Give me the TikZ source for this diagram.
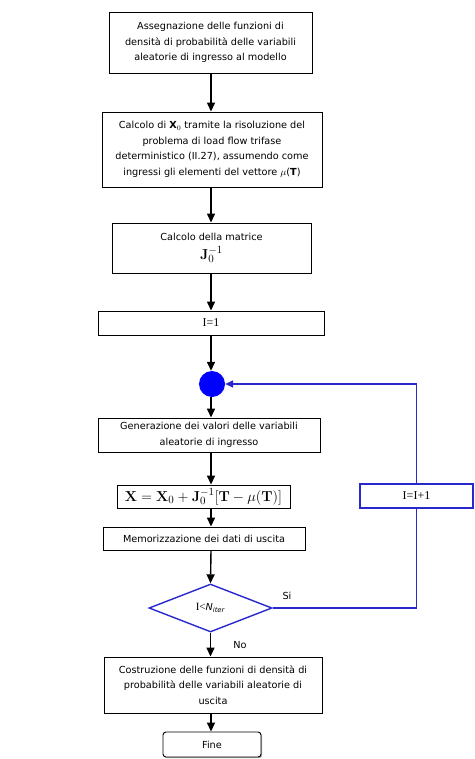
\documentclass[tikz,border=0pt]{standalone}
\usepackage[no-math]{fontspec}
\setmainfont{DejaVu Sans}
\newfontfamily\timesfont{Liberation Serif}
\usetikzlibrary{shapes.geometric,arrows.meta,shadows}
\definecolor{loopblue}{RGB}{40,40,205}
\begin{document}
\begin{tikzpicture}[x=1pt,y=-1pt,
    font=\fontsize{9.7}{15.5}\selectfont,
    box/.style={draw, line width=0.9pt, align=center, inner sep=2pt},
    flow/.style={line width=1.4pt, -{Triangle[length=9pt,width=8pt]}},
    loop/.style={draw=loopblue, line width=1.6pt},
    serifnum/.style={font=\timesfont\fontsize{12}{13}\selectfont},
    bigmath/.style={font=\fontsize{15}{17}\selectfont}]
    \useasboundingbox (0,0) rectangle (474,759);
    \coordinate (sp) at (211,0);

    % main column
    \node[box, minimum width=203, minimum height=61] (dens) at (210.5,42.5)
        {Assegnazione delle funzioni di\\densità di probabilità delle variabili\\aleatorie di ingresso al modello};
    \node[box, minimum width=220, minimum height=75] (xzero) at (212,149.5)
        {Calcolo di \textbf{X}$_0$ tramite la risoluzione del\\problema di load flow trifase\\deterministico (II.27), assumendo come\\ingressi gli elementi del vettore $\mu$(\textbf{T})};
    \node[box, minimum width=199, minimum height=50] (jac) at (211.5,248)
        {Calcolo della matrice\\[3pt]{\fontsize{15}{17}\selectfont$\mathbf{J}_0^{-1}$}};
    \node[box, serifnum, minimum width=226, minimum height=24] (init) at (211,323) {I=1};
    \node[circle, fill=blue, minimum size=26, inner sep=0] (merge) at (212,384) {};
    \node[box, minimum width=222, minimum height=34] (gen) at (209,435)
        {Generazione dei valori delle variabili\\aleatorie di ingresso};
    \node[box, bigmath, minimum width=173, minimum height=23, inner sep=0] (upd) at (203.5,496.5)
        {$\mathbf{X}=\mathbf{X}_0+\mathbf{J}_0^{-1}\Big[\mathbf{T}-\mu\big(\mathbf{T}\big)\Big]$};
    \node[box, minimum width=202, minimum height=23] (mem) at (204,538.5)
        {Memorizzazione dei dati di uscita};
    \node[diamond, draw=loopblue, line width=1.4pt, minimum width=123, minimum height=48,
        aspect=2.5, inner sep=0] (test) at (210.5,608)
        {{\timesfont\fontsize{11}{13}\selectfont I<}\textit{N}\textsubscript{\textit{iter}}};
    \node[box, minimum width=218, minimum height=56] (out) at (213,685)
        {Costruzione delle funzioni di densità di\\probabilità delle variabili aleatorie di\\uscita};
    \node[box, rounded corners=3pt, fill=white, minimum width=98, minimum height=25,
        drop shadow={shadow xshift=1.2pt, shadow yshift=-1.2pt, fill=black!70}] (fine) at (212,744.5) {Fine};

    % loop counter
    \node[box, serifnum, draw=loopblue, line width=1.4pt, minimum width=113, minimum height=24] (inc) at (416.5,496)
        {I=I+1};

    \draw[flow] (dens.south -| sp) -- (xzero.north -| sp);
    \draw[flow] (xzero.south -| sp) -- (jac.north -| sp);
    \draw[flow] (jac.south -| sp) -- (init.north -| sp);
    \draw[flow] (init.south -| sp) -- (merge.north -| sp);
    \draw[flow] (merge.south -| sp) -- (gen.north -| sp);
    \draw[flow] (gen.south -| sp) -- (upd.north -| sp);
    \draw[flow] (upd.south -| sp) -- (mem.north -| sp);
    \draw[flow] (mem.south -| sp) -- (test.north);
    \draw[flow] (test.south) -- (out.north -| test.south);
    \draw[flow] (out.south -| sp) -- (fine.north -| sp);

    \draw[loop] (test.east) -| (inc.south);
    \draw[loop, -{Triangle[length=8pt,width=7pt]}] (inc.north) |- (merge.east);

    \node (si) at (287,596) {Si};
    \node (no) at (240,645) {No};
\end{tikzpicture}
\end{document}
